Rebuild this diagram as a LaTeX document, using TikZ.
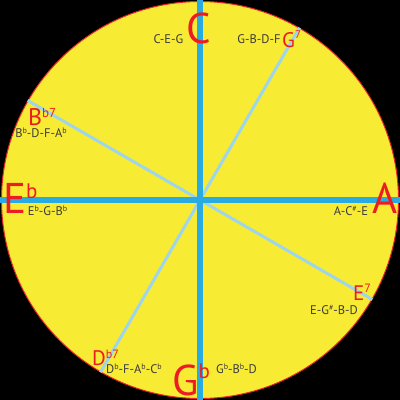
\documentclass[tikz,border=0pt]{standalone}
\usepackage{fontspec}
\setmainfont{PT Sans}
\definecolor{bgyellow}{HTML}{F7EB33}
\definecolor{rimred}{HTML}{E8262B}
\definecolor{keyred}{HTML}{ED1C24}
\definecolor{axisblue}{HTML}{29ABE2}
\definecolor{diagblue}{HTML}{9DD5EC}
\definecolor{notegray}{HTML}{3C3C3C}
\newcommand\suph[3]{\raisebox{#1pt}{\fontsize{#2}{#2}\selectfont #3}}
\tikzset{
  axis/.style={line width=6pt, axisblue},
  diag/.style={line width=3pt, diagblue},
  bigkey/.style={inner sep=0pt, text depth=0pt, text=keyred, font=\fontsize{43}{43}\selectfont},
  midkey/.style={inner sep=0pt, text depth=0pt, text=keyred, font=\fontsize{22}{22}\selectfont, anchor=base west},
  notes/.style={inner sep=0pt, text depth=0pt, text=notegray, font=\fontsize{12.5}{12.5}\selectfont, anchor=base},
}
\begin{document}
\begin{tikzpicture}[x=1pt,y=-1pt]
\useasboundingbox (0,0) rectangle (400,400);
\fill[black] (0,0) rectangle (400,400);
\node[circle, draw=rimred, line width=1pt, fill=bgyellow, minimum size=397pt, inner sep=0pt] (wheel) at (200,200) {};
% axis end points
\coordinate (north) at (200,0);
\coordinate (south) at (200,400);
\coordinate (west) at (0,200);
\coordinate (east) at (400,200);
\coordinate (g7end) at (299.5,27.7);
\coordinate (db7end) at (100.5,372.3);
\coordinate (bb7end) at (27.7,100.5);
\coordinate (e7end) at (372.3,299.5);
\draw[diag] (g7end) -- (db7end);
\draw[diag] (bb7end) -- (e7end);
\draw[axis] (west) -- (east);
\draw[axis] (north) -- (south);
% big keys
\node[bigkey, anchor=base] (kC) at (198.5,43) {C};
\node[bigkey, anchor=base] (kA) at (385,213) {A};
\node[bigkey, anchor=base west] (kEb) at (3,213) {E\suph{15}{21}{b}};
\node[bigkey, anchor=base west] (kGb) at (172,395) {G\suph{17}{21}{b}};
% seventh chords
\node[midkey, font=\fontsize{21}{21}\selectfont] (kG7) at (282,47) {G\suph{9}{11}{7}};
\node[midkey, font=\fontsize{24}{24}\selectfont] (kBb7) at (28,125) {B\suph{8}{13}{b7}};
\node[midkey, font=\fontsize{21}{21}\selectfont] (kE7) at (353,300) {E\suph{8}{12}{7}};
\node[midkey, font=\fontsize{21}{21}\selectfont] (kDb7) at (92,365) {D\suph{7}{12}{b7}};
% note lists
\node[notes] (nC) at (168.5,43) {C-E-G};
\node[notes] (nG7) at (259,43) {G-B-D-F};
\node[notes] (nBb7) at (41,137) {B\suph{4}{8}{b}-D-F-A\suph{4}{8}{b}};
\node[notes] (nEb) at (47.5,215) {E\suph{4}{8}{b}-G-B\suph{4}{8}{b}};
\node[notes] (nA) at (351,215) {A-C\suph{4}{8}{\#}-E};
\node[notes] (nE7) at (334,314) {E-G\suph{4}{8}{\#}-B-D};
\node[notes] (nDb7) at (134,373) {D\suph{4}{8}{b}-F-A\suph{4}{8}{b}-C\suph{4}{8}{b}};
\node[notes] (nGb) at (236.5,373) {G\suph{4}{8}{b}-B\suph{4}{8}{b}-D};
\end{tikzpicture}
\end{document}
